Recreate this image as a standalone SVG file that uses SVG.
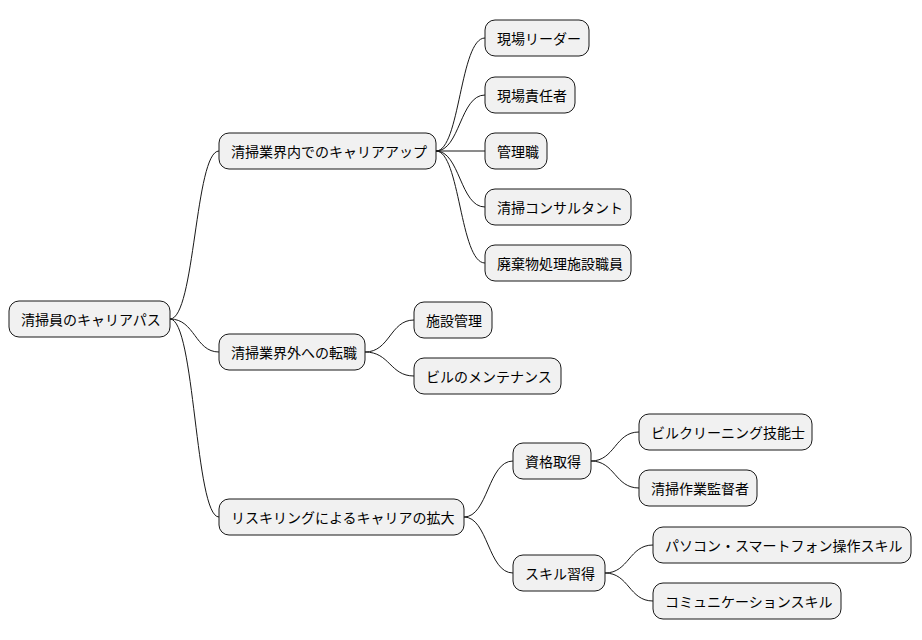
<svg xmlns="http://www.w3.org/2000/svg" width="922" height="640" viewBox="0 0 922 640">
<style>
.n rect{fill:#F1F1F1;stroke:#181818;stroke-width:1}
.n text{font-family:"Noto Sans CJK JP","Noto Sans",sans-serif;font-size:14px;fill:#000;dominant-baseline:central}
#c path{fill:none;stroke:#181818;stroke-width:1}
</style>
<rect width="922" height="640" fill="#fff"/>
<g id="c">
<path d="M170,319 C195,319 195,151 219,151"/>
<path d="M170,319 C195,319 195,352 219,352"/>
<path d="M170,319 C195,319 195,517 219,517"/>
<path d="M436,151 C460,151 460,38 485,38"/>
<path d="M436,151 C460,151 460,95 485,95"/>
<path d="M436,151 L485,151"/>
<path d="M436,151 C460,151 460,207 485,207"/>
<path d="M436,151 C460,151 460,263 485,263"/>
<path d="M365,352 C390,352 390,320 414,320"/>
<path d="M365,352 C390,352 390,376 414,376"/>
<path d="M464,517 C488,517 488,461 513,461"/>
<path d="M464,517 C488,517 488,573 513,573"/>
<path d="M591,461 C615,461 615,432 639,432"/>
<path d="M591,461 C615,461 615,488 639,488"/>
<path d="M605,573 C629,573 629,545 653,545"/>
<path d="M605,573 C629,573 629,601 653,601"/>
</g>
<g id="root" class="n"><rect x="9" y="301" width="161" height="36" rx="10"/><text x="21" y="319">清掃員のキャリアパス</text></g>
<g id="a" class="n"><rect x="219" y="133" width="217" height="36" rx="10"/><text x="231" y="151">清掃業界内でのキャリアアップ</text></g>
<g id="b" class="n"><rect x="219" y="334" width="146" height="36" rx="10"/><text x="231" y="352">清掃業界外への転職</text></g>
<g id="c1" class="n"><rect x="219" y="499" width="245" height="36" rx="10"/><text x="231" y="517">リスキリングによるキャリアの拡大</text></g>
<g id="a1" class="n"><rect x="485" y="20" width="104" height="36" rx="10"/><text x="497" y="38">現場リーダー</text></g>
<g id="a2" class="n"><rect x="485" y="77" width="90" height="36" rx="10"/><text x="497" y="95">現場責任者</text></g>
<g id="a3" class="n"><rect x="485" y="133" width="62" height="36" rx="10"/><text x="497" y="151">管理職</text></g>
<g id="a4" class="n"><rect x="485" y="189" width="146" height="36" rx="10"/><text x="497" y="207">清掃コンサルタント</text></g>
<g id="a5" class="n"><rect x="485" y="245" width="146" height="36" rx="10"/><text x="497" y="263">廃棄物処理施設職員</text></g>
<g id="b1" class="n"><rect x="414" y="302" width="78" height="36" rx="10"/><text x="426" y="320">施設管理</text></g>
<g id="b2" class="n"><rect x="414" y="358" width="147" height="36" rx="10"/><text x="426" y="376">ビルのメンテナンス</text></g>
<g id="c2" class="n"><rect x="513" y="443" width="78" height="36" rx="10"/><text x="525" y="461">資格取得</text></g>
<g id="c3" class="n"><rect x="513" y="555" width="92" height="36" rx="10"/><text x="525" y="573">スキル習得</text></g>
<g id="c4" class="n"><rect x="639" y="414" width="173" height="36" rx="10"/><text x="651" y="432">ビルクリーニング技能士</text></g>
<g id="c5" class="n"><rect x="639" y="470" width="118" height="36" rx="10"/><text x="651" y="488">清掃作業監督者</text></g>
<g id="c6" class="n"><rect x="653" y="527" width="258" height="36" rx="10"/><text x="665" y="545">パソコン・スマートフォン操作スキル</text></g>
<g id="c7" class="n"><rect x="653" y="583" width="188" height="36" rx="10"/><text x="665" y="601">コミュニケーションスキル</text></g>
</svg>
